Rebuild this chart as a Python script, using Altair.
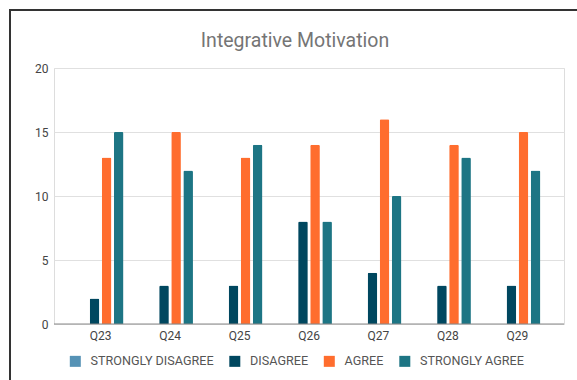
import altair as alt
import pandas as pd

# Survey responses per question (count of respondents)
questions = ["Q23", "Q24", "Q25", "Q26", "Q27", "Q28", "Q29"]
responses = ["STRONGLY DISAGREE", "DISAGREE", "AGREE", "STRONGLY AGREE"]
strongly_disagree = [0, 0, 0, 0, 0, 0, 0]
disagree = [2, 3, 3, 8, 4, 3, 3]
agree = [13, 15, 13, 14, 16, 14, 15]
strongly_agree = [15, 12, 14, 8, 10, 13, 12]
palette = ["#5592b5", "#00475f", "#ff6d2e", "#1d7584"]
chart_title = "Integrative Motivation"

series = [strongly_disagree, disagree, agree, strongly_agree]
rows = []
for resp, vals in zip(responses, series):
    for q, v in zip(questions, vals):
        rows.append({"question": q, "response": resp, "count": v})
df = pd.DataFrame(rows)

W, H = 510, 256
FONT = "Roboto"

bars = alt.Chart(df).mark_bar(cornerRadiusTopLeft=1.5, cornerRadiusTopRight=1.5).encode(
    x=alt.X("question:N", sort=questions, title=None,
            scale=alt.Scale(paddingInner=0.34, paddingOuter=0.34),
            axis=alt.Axis(labelAngle=0, ticks=False, domain=False, labelPadding=6,
                          labelFont=FONT, labelFontSize=12, labelColor="#444")),
    xOffset=alt.XOffset("response:N", sort=responses,
                        scale=alt.Scale(paddingInner=0.2)),
    y=alt.Y("count:Q", title=None,
            scale=alt.Scale(domain=[0, 20]),
            axis=alt.Axis(values=[0, 5, 10, 15, 20], ticks=False, domain=False,
                          labelPadding=6, gridColor="#e0e0e0",
                          labelFont=FONT, labelFontSize=12, labelColor="#444")),
    color=alt.Color("response:N", sort=responses,
                    scale=alt.Scale(domain=responses, range=palette),
                    legend=alt.Legend(title=None, orient="none", direction="horizontal",
                                      columns=4, legendX=15, legendY=287,
                                      symbolType="square", symbolSize=121,
                                      symbolStrokeWidth=0, symbolOpacity=1,
                                      labelFont=FONT, labelFontSize=12.6,
                                      labelColor="#555", labelOffset=9,
                                      columnPadding=14.5, padding=0)),
)

baseline = alt.Chart(pd.DataFrame({"zero": [0]})).mark_rule(color="#888", strokeWidth=1).encode(
    y="zero:Q", x=alt.value(0), x2=alt.value(W)
)

frame = alt.Chart(pd.DataFrame({"f": [0]})).mark_rect(
    fill=None, stroke="#333", strokeWidth=2
).encode(
    x=alt.value(-44), y=alt.value(-58), x2=alt.value(540), y2=alt.value(330)
)

title = alt.Chart(pd.DataFrame({"t": [chart_title]})).mark_text(
    font=FONT, fontSize=19.5, color="#757575", align="center", baseline="alphabetic"
).encode(text="t:N", x=alt.value(241), y=alt.value(-21))

chart = alt.layer(bars, baseline, frame, title).properties(
    width=W, height=H,
    autosize=alt.AutoSizeParams(type="none"),
    padding={"left": 54, "top": 68, "right": 13, "bottom": 56},
).configure_view(stroke=None).configure(background="white")

chart.save("out.html", embed_options={"renderer": "svg", "actions": False})
